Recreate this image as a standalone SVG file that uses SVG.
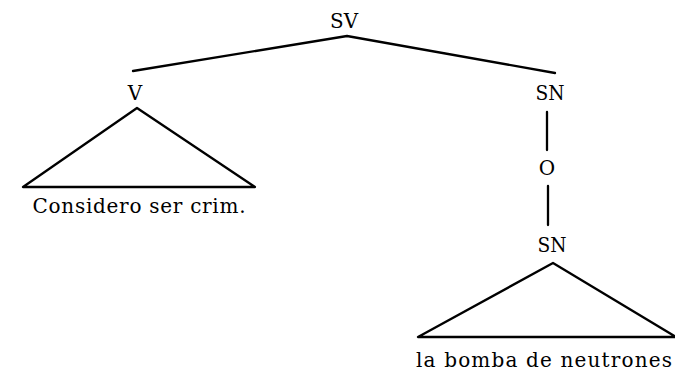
<svg xmlns="http://www.w3.org/2000/svg" width="675" height="371" viewBox="0 0 675 371">
<style>
.lbl{font-family:"DejaVu Serif","Liberation Serif",serif;font-size:20px;fill:#000;text-anchor:middle}
.cat{font-family:"DejaVu Serif","Liberation Serif",serif;font-size:20px;fill:#000;text-anchor:middle}
.ln{stroke:#000;stroke-width:2.3;fill:none;stroke-linejoin:round;stroke-linecap:round}
</style>
<rect width="675" height="371" fill="#fff"/>
<g id="connectors">
<polyline class="ln" points="133,71 347,36 555,73"/>
<line class="ln" x1="547" y1="112" x2="547" y2="150"/>
<line class="ln" x1="548" y1="186" x2="548" y2="225"/>
</g>
<g id="SV"><text class="cat" x="344" y="28" textLength="28" lengthAdjust="spacingAndGlyphs">SV</text></g>
<g id="V">
<text class="cat" x="135" y="100">V</text>
<polygon class="ln" points="137,108 23,187 255,187"/>
<text class="lbl" x="139" y="213" textLength="213" lengthAdjust="spacing">Considero ser crim.</text>
</g>
<g id="SN1"><text class="cat" x="550" y="100" textLength="29" lengthAdjust="spacingAndGlyphs">SN</text></g>
<g id="O"><text class="cat" x="547" y="175">O</text></g>
<g id="SN2">
<text class="cat" x="552" y="252" textLength="29" lengthAdjust="spacingAndGlyphs">SN</text>
<polygon class="ln" points="553,263 418,337 676,337"/>
<text class="lbl" x="544" y="367" textLength="256" lengthAdjust="spacing">la bomba de neutrones</text>
</g>
</svg>
